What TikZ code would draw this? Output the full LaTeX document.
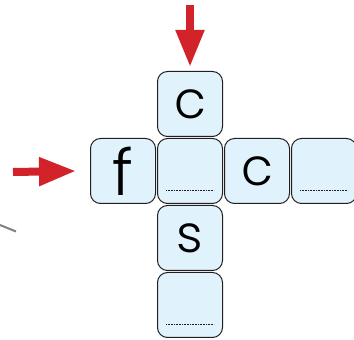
\documentclass[tikz,border=0pt]{standalone}
\usepackage{fontspec}
\IfFontExistsTF{Poppins Light}{\newfontfamily\cellfont{Poppins Light}}{\newfontfamily\cellfont{Poppins}}
\usetikzlibrary{positioning,arrows.meta}
\definecolor{cellblue}{RGB}{224,242,251}
\definecolor{celledge}{RGB}{35,31,32}
\definecolor{arrowred}{RGB}{210,35,42}
\tikzset{
  cell/.style={draw=celledge,fill=cellblue,line width=1pt,rounded corners=10pt,
    minimum width=65pt,minimum height=65pt,inner sep=0pt,
    font=\cellfont\fontsize{52}{52}\selectfont},
  redarrow/.style={arrowred,line width=8pt,-{Triangle[length=37pt,width=27pt]}},
  blankline/.style={celledge,line width=0.8pt,dash pattern=on 0.8pt off 0.8pt}
}
\begin{document}
\begin{tikzpicture}[x=1pt,y=1pt,node distance=1pt]
    \useasboundingbox (0,0) rectangle (354,340);

    % Crossing cells
    \node[cell] (mid) at (190,169) {};
    \node[cell,above=of mid] (top) {c};
    \node[cell,left=of mid] (f) {\fontsize{64}{64}\selectfont f};
    \node[cell,right=of mid] (right) {c};
    \node[cell,right=of right] (last) {};
    \node[cell,below=of mid] (s) {s};
    \node[cell,below=of s] (bottom) {};

    % Blanks to fill in
    \foreach \n in {mid,last,bottom}
        \draw[blankline] ([xshift=9pt,yshift=14pt]\n.south west) -- ([xshift=-9pt,yshift=14pt]\n.south east);

    % Arrows
    \coordinate (topstart) at (190,335);
    \coordinate (leftstart) at (13,168);
    \draw[redarrow] (topstart) -- ([yshift=4pt]top.north);
    \draw[redarrow] (leftstart) -- ([xshift=-14pt]f.west);

    % Stray stroke at the left edge
    \draw[gray,line width=2pt] (0,115) -- (16,108.5);
\end{tikzpicture}
\end{document}
